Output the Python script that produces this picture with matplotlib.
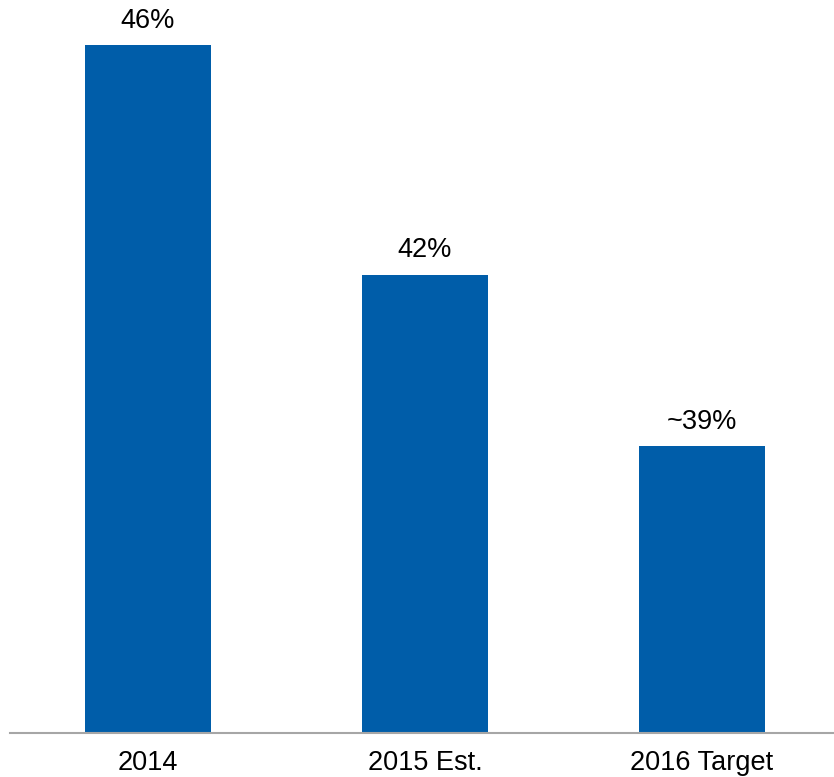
import matplotlib.pyplot as plt

categories = ["2014", "2015 Est.", "2016 Target"]
values = [46, 42, 39]
value_labels = ["46%", "42%", "~39%"]

plt.rcParams['font.family'] = ['Liberation Sans', 'DejaVu Sans']

fig = plt.figure(figsize=(8.34, 7.77), dpi=100)
ax = fig.add_axes([10 / 834, 44 / 777, 824 / 834, 733 / 777])

x = range(len(categories))
bars = ax.bar(x, values, width=0.455, color="#005DA9", zorder=2)

for rect, lab in zip(bars, value_labels):
    ax.annotate(lab, (rect.get_x() + rect.get_width() / 2, rect.get_height()),
                xytext=(0, 8), textcoords="offset points",
                ha="center", va="bottom", fontsize=19.5, color="black")

ax.set_ylim(34, 46.79)
ax.set_xlim(-0.498, 2.477)
ax.set_xticks(list(x))
ax.set_xticklabels(categories, fontsize=19.5, color="black")
ax.tick_params(axis="x", length=0, pad=12)
ax.set_yticks([])

for side in ["top", "right", "left"]:
    ax.spines[side].set_visible(False)
ax.spines["bottom"].set_color("#A6A6A6")
ax.spines["bottom"].set_linewidth(1.5)

fig.savefig("out.png", dpi=100)
